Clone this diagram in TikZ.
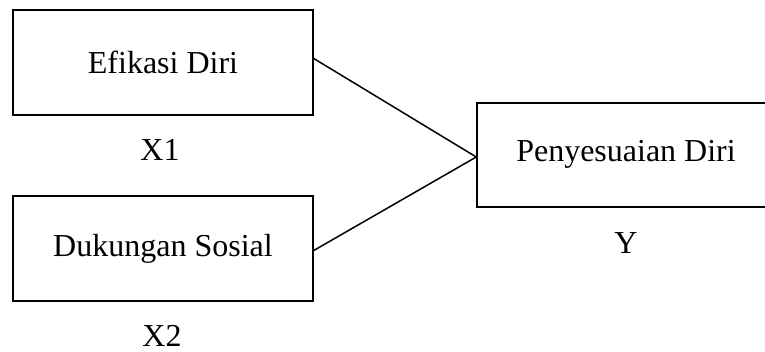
\documentclass[tikz,border=0pt]{standalone}
\usepackage{fontspec}
\setmainfont{Liberation Serif}
\begin{document}
\begin{tikzpicture}[x=1pt,y=-1pt,
  varbox/.style={draw,line width=1.5pt,rectangle,inner sep=0pt,
    font=\fontsize{32}{38}\selectfont},
  varlabel/.style={font=\fontsize{32}{38}\selectfont,inner sep=0pt},
  link/.style={line width=1.5pt}]
\clip (0,0) rectangle (765,352);
\useasboundingbox (0,0) rectangle (765,352);
% independent variables
\node[varbox,minimum width=300pt,minimum height=105pt] (x1) at (163,62.5) {Efikasi Diri};
\node[varbox,minimum width=300pt,minimum height=105pt] (x2) at (163,248.5) {Dukungan Sosial};
% dependent variable (box runs past the right edge)
\node[varbox,minimum width=300pt,minimum height=104pt] (y) at (627,155) {};
\node[varlabel] (ytext) at (626,154) {Penyesuaian Diri};
% variable codes
\node[varlabel] (lx1) at (160,150) {X1};
\node[varlabel] (lx2) at (162,336) {X2};
\node[varlabel] (ly) at (626,243) {Y};
% paths
\coordinate (a) at ([yshift=4pt]x1.east);
\coordinate (b) at ([yshift=-2pt]x2.east);
\coordinate (c) at ([yshift=-2pt]y.west);
\draw[link] (a) -- (c);
\draw[link] (b) -- (c);
\end{tikzpicture}
\end{document}
